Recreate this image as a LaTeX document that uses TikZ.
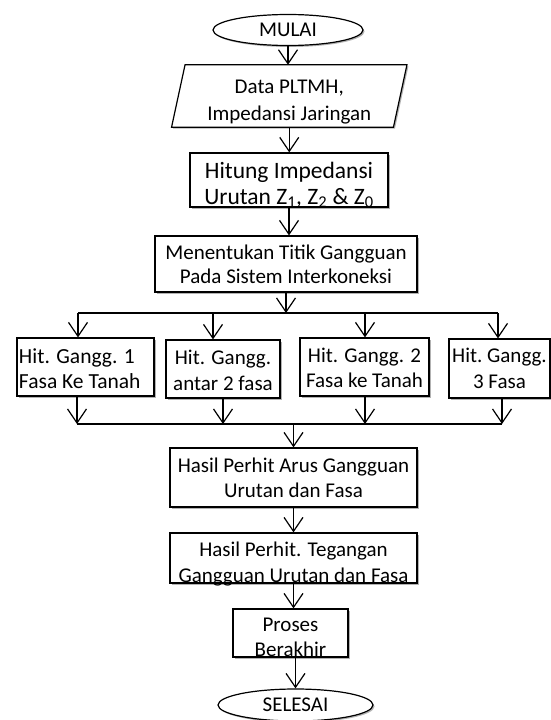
\documentclass[tikz,border=0pt]{standalone}
\usepackage{fontspec}
\setmainfont{Carlito}
\usetikzlibrary{shapes.geometric, arrows.meta, calc, shadows, backgrounds}

\tikzset{
  teks/.style={inner xsep=2pt, inner ysep=0pt, align=flush center, font=\fontsize{21}{25}\selectfont},
  bayang/.style={drop shadow={shadow xshift=1.5pt, shadow yshift=-1.5pt, opacity=0.3, fill=black}},
  kotak/.style={teks, draw, fill=white, line width=1.2pt, bayang},
  oval/.style={ellipse, draw, fill=white, line width=1.2pt, inner sep=0pt, font=\fontsize{21}{25}\selectfont, bayang},
  garis/.style={line width=1.2pt},
  panah/.style={-{Straight Barb[length=14pt,width=19pt]}, line width=1.2pt}
}

\begin{document}
\begin{tikzpicture}[x=1pt, y=-1pt]
\useasboundingbox (0,0) rectangle (551,720);

% mulai dan input
\node[oval, minimum width=150, minimum height=31] (mulai) at (288,30) {MULAI};
\node[teks, text width=217.5pt, text height=28pt, text depth=34pt, font=\fontsize{21}{27.5}\selectfont] (data) at (289.25,96) {Data PLTMH,\\Impedansi Jaringan};
\begin{scope}[on background layer]
  \filldraw[fill=white, line width=1.2pt, bayang] ($(data.north west)+(6.75,0)$) -- ($(data.north east)+(6.75,0)$) -- ($(data.south east)+(-6.75,0)$) -- ($(data.south west)+(-6.75,0)$) -- cycle;
\end{scope}

% proses awal
\node[kotak, text width=194pt, text height=25pt, text depth=29pt, font=\fontsize{23.5}{26}\selectfont] (hitung) at (289,180) {Hitung Impedansi\\Urutan Z\textsubscript{1}, Z\textsubscript{2} \& Z\textsubscript{0}};
\node[kotak, text width=258pt, text height=23.3pt, text depth=32.7pt, font=\fontsize{21}{24}\selectfont] (tentukan) at (286,264) {Menentukan Titik Gangguan\\Pada Sistem Interkoneksi};

% cabang
\coordinate (t1) at (78,313);
\coordinate (t2) at (213,313);
\coordinate (t3) at (365,313);
\coordinate (t4) at (498,313);
\node[kotak, align=flush left, text width=133pt, text height=25.3pt, text depth=32.7pt, font=\fontsize{21.5}{25}\selectfont] (gangg1) at (85.5,367) {Hit. Gangg. 1\\Fasa Ke Tanah};
\node[kotak, text width=110pt, text height=24pt, text depth=34pt, font=\fontsize{21}{26}\selectfont] (gangg2) at (223,369) {Hit. Gangg.\\antar 2 fasa};
\node[kotak, text width=125pt, text height=24.7pt, text depth=33.3pt] (gangg3) at (364.5,367) {Hit. Gangg. 2\\Fasa ke Tanah};
\node[kotak, inner xsep=0pt, text width=101pt, text height=23.7pt, text depth=35.3pt, font=\fontsize{21}{26}\selectfont] (gangg4) at (499.5,368.5) {Hit.~Gangg.\\3 Fasa};
\coordinate (b1) at (77,424);
\coordinate (b2) at (223,424);
\coordinate (b3) at (365,424);
\coordinate (b4) at (502,424);

% hasil
\node[kotak, text width=243pt, text height=24.7pt, text depth=34.3pt, font=\fontsize{21}{24.6}\selectfont] (arus) at (293.5,477.5) {Hasil Perhit Arus Gangguan\\Urutan dan Fasa};
\node[kotak, text width=243pt, text height=23.7pt, text depth=26.3pt, font=\fontsize{21}{26}\selectfont] (teg) at (293.5,558) {Hasil Perhit. Tegangan\\Gangguan Urutan dan Fasa};
\node[kotak, text width=111pt, text height=22.7pt, text depth=25.3pt] (proses) at (290.5,633) {Proses\\Berakhir};
\node[oval, minimum width=155, minimum height=32] (selesai) at (295.5,705) {SELESAI};

% panah
\draw[panah] (mulai.south) -- (mulai.south |- data.north);
\draw[panah] (data.south) -- (data.south |- hitung.north);
\draw[panah] (hitung.south) -- (hitung.south |- tentukan.north);
\draw[panah] (tentukan.south) -- (tentukan.south |- t1);
\draw[garis] (t1) -- (t4);
\draw[panah] (t1) -- (t1 |- gangg1.north);
\draw[panah] (t2) -- (t2 |- gangg2.north);
\draw[panah] (t3) -- (t3 |- gangg3.north);
\draw[panah] (t4) -- (t4 |- gangg4.north);
\draw[panah] (gangg1.south -| b1) -- (b1);
\draw[panah] (gangg2.south -| b2) -- (b2);
\draw[panah] (gangg3.south -| b3) -- (b3);
\draw[panah] (gangg4.south -| b4) -- (b4);
\draw[garis] (b1) -- (b4);
\draw[panah] (arus.north |- b1) -- (arus.north);
\draw[panah] (arus.south) -- (arus.south |- teg.north);
\draw[panah] (teg.south) -- (teg.south |- proses.north);
\draw[panah] (proses.south -| selesai.north) -- (selesai.north);
\end{tikzpicture}
\end{document}
